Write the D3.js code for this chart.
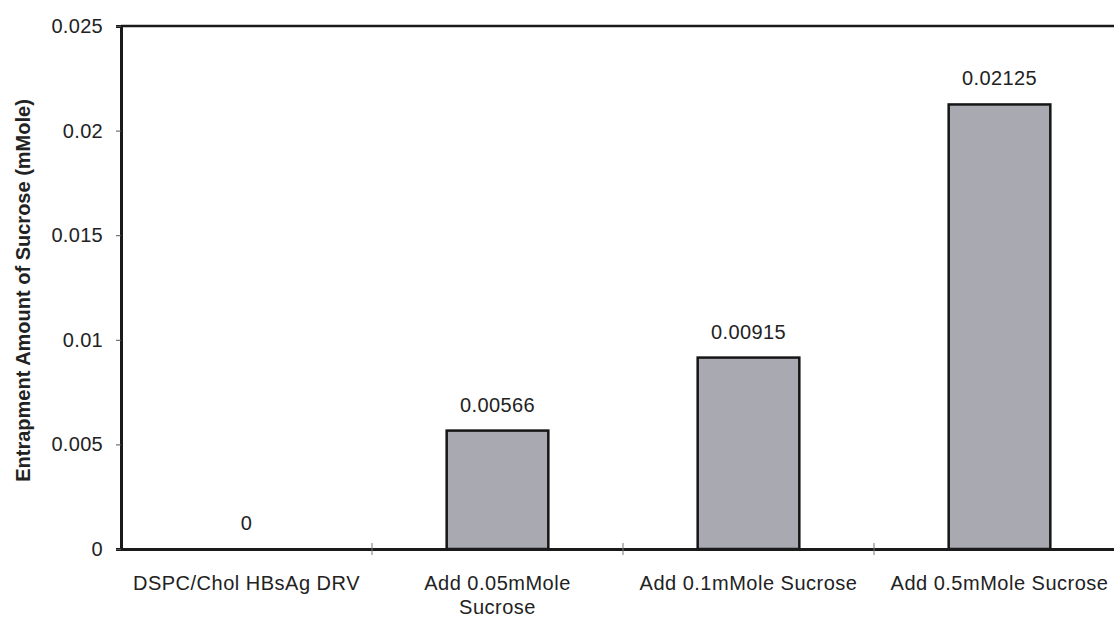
<!DOCTYPE html>
<html>
<head>
<meta charset="utf-8">
<script src="https://cdn.jsdelivr.net/npm/d3@7"></script>
<style>
  body { margin: 0; background: #fff; }
  svg { display: block; font-family: "Liberation Sans", Arial, sans-serif; }
</style>
</head>
<body>
<div id="chart"></div>
<script>

// data
var categories = ["DSPC/Chol HBsAg DRV", "Add 0.05mMole Sucrose", "Add 0.1mMole Sucrose", "Add 0.5mMole Sucrose"]
var labelLines = [["DSPC/Chol HBsAg DRV"], ["Add 0.05mMole", "Sucrose"], ["Add 0.1mMole Sucrose"], ["Add 0.5mMole Sucrose"]]
var values = [0, 0.00566, 0.00915, 0.02125]
var valueLabels = ["0", "0.00566", "0.00915", "0.02125"]
var yTicks = [0, 0.005, 0.01, 0.015, 0.02, 0.025]
var yTickLabels = ["0", "0.005", "0.01", "0.015", "0.02", "0.025"]
var yTitle = "Entrapment Amount of Sucrose (mMole)"

var width = 1114
var height = 620

// plot box (runs past the right edge, as in the scan)
var pLeft = 121, pTop = 26, pBottom = 549, pRight = 1125

var svg = d3.select("#chart")
	.append("svg")
	.attr("width", width)
	.attr("height", height)
	.attr("viewBox", `0 0 ${width} ${height}`)

var x = d3.scaleBand()
	.domain(categories)
	.range([pLeft, pRight])
	.padding(0)

var y = d3.scaleLinear()
	.domain([0, 0.025])
	.range([pBottom, pTop])

var barW = x.bandwidth() * 0.405

// bars
svg.append("g")
	.selectAll("rect")
	.data(values)
	.join("rect")
		.attr("x", (d, i) => x(categories[i]) + (x.bandwidth() - barW) / 2)
		.attr("y", d => y(d))
		.attr("width", barW)
		.attr("height", d => pBottom - y(d))
		.attr("fill", "#a9a9b2")
		.attr("stroke", "#151515")
		.attr("stroke-width", 2.5)
		.style("display", d => d > 0 ? "block" : "none")

// value labels
svg.append("g")
	.attr("font-size", 20)
	.attr("fill", "#222")
	.attr("text-anchor", "middle")
	.attr("letter-spacing", 0.4)
	.selectAll("text")
	.data(values)
	.join("text")
		.attr("x", (d, i) => x(categories[i]) + x.bandwidth() / 2)
		.attr("y", d => y(d) - 19)
		.text((d, i) => valueLabels[i])

// frame top line
svg.append("line")
	.attr("x1", pLeft).attr("x2", pRight)
	.attr("y1", pTop).attr("y2", pTop)
	.attr("stroke", "#1a1a1a")
	.attr("stroke-width", 2.5)

// y axis
var yAxis = d3.axisLeft(y)
	.tickValues(yTicks)
	.tickFormat((d, i) => yTickLabels[i])
	.tickSize(5)
	.tickPadding(13)

var gy = svg.append("g")
	.attr("transform", `translate(${pLeft},0)`)
	.call(yAxis)

gy.select(".domain").attr("stroke", "#1a1a1a").attr("stroke-width", 3)
gy.selectAll(".tick line").attr("stroke", "#555")
gy.selectAll(".tick text")
	.attr("font-size", 20)
	.attr("fill", "#222")
	.attr("letter-spacing", 0.3)
	.attr("font-family", "Liberation Sans, Arial, sans-serif")

// x axis
var xAxis = d3.axisBottom(x)
	.tickSize(0)
	.tickFormat("")

var gx = svg.append("g")
	.attr("transform", `translate(0,${pBottom})`)
	.call(xAxis)

gx.select(".domain").attr("stroke", "#1a1a1a").attr("stroke-width", 3)

// boundary tick marks between categories
gx.append("g")
	.selectAll("line")
	.data(categories.slice(1))
	.join("line")
		.attr("x1", d => x(d)).attr("x2", d => x(d))
		.attr("y1", -6).attr("y2", 6)
		.attr("stroke", "#777")
		.attr("stroke-width", 1)

// category labels
var lab = svg.append("g")
	.attr("font-size", 20)
	.attr("fill", "#222")
	.attr("text-anchor", "middle")
	.attr("letter-spacing", 0.5)
	.selectAll("text")
	.data(categories)
	.join("text")
		.attr("x", d => x(d) + x.bandwidth() / 2)
		.attr("y", 590)

lab.selectAll("tspan")
	.data((d, i) => labelLines[i])
	.join("tspan")
		.attr("x", function() { return this.parentNode.getAttribute("x") })
		.attr("dy", (d, j) => j ? 24 : 0)
		.text(d => d)

// y title
svg.append("text")
	.attr("transform", `translate(30,${(pTop + pBottom) / 2 + 3}) rotate(-90)`)
	.attr("text-anchor", "middle")
	.attr("font-size", 20)
	.attr("font-weight", "bold")
	.attr("fill", "#222")
	.text(yTitle)

</script>
</body>
</html>
